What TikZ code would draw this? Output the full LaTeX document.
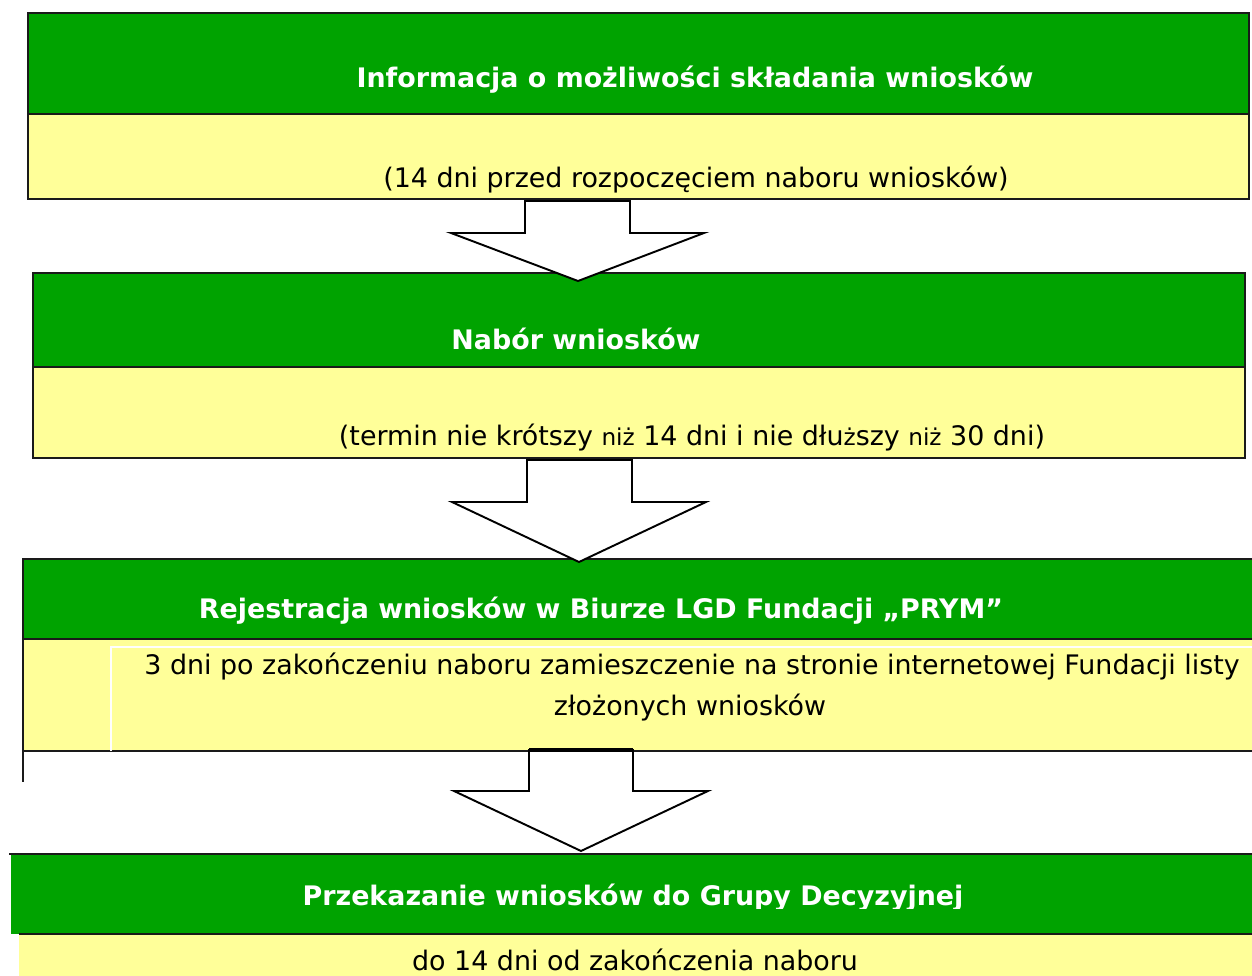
\documentclass[tikz,border=0pt]{standalone}
\usepackage{fontspec}
\setmainfont{DejaVu Sans}
\definecolor{hdgreen}{HTML}{00A300}
\definecolor{pale}{HTML}{FFFF99}
\definecolor{edge}{HTML}{1A1A1A}
\tikzset{
  ttl/.style={font=\fontsize{15.3}{18}\selectfont\bfseries, text=white, anchor=base, inner sep=0pt},
  bdy/.style={font=\fontsize{15.3}{18}\selectfont, text=black, anchor=base, inner sep=0pt},
  bx/.style={draw=edge, line width=1.1pt},
  blk/.style={draw=black, line width=1.1pt, fill=white, line join=miter},
}
\newcommand{\smallpl}[1]{{\fontsize{13.2}{16}\selectfont #1}}
\begin{document}
\begin{tikzpicture}[x=0.02cm,y=-0.02cm]
\useasboundingbox (0,0) rectangle (1252,976);
% ---------- box 1
\fill[hdgreen] (28,13) rectangle (1249,114);
\fill[pale] (28,114) rectangle (1249,199);
\draw[bx] (28,13) rectangle (1249,199);
\draw[bx] (28,114) -- (1249,114);
\node[ttl] (t1) at (695,88) {Informacja o możliwości składania wniosków};
\node[bdy] (b1) at (696,188) {(14 dni przed rozpoczęciem naboru wniosków)};
% ---------- box 2
\fill[hdgreen] (33,273) rectangle (1245,367);
\fill[pale] (33,367) rectangle (1245,458);
\draw[bx] (33,273) rectangle (1245,458);
\draw[bx] (33,367) -- (1245,367);
\node[ttl] (t2) at (576,350) {Nabór wniosków};
\node[bdy] (b2) at (692,446) {(termin nie krótszy \smallpl{niż} 14 dni i nie dłu\smallpl{ż}szy \smallpl{niż} 30 dni)};
% ---------- box 3
\fill[hdgreen] (23,559) rectangle (1252,639);
\fill[pale] (23,639) rectangle (1252,751);
\draw[bx] (1252,559) -- (23,559) -- (23,782);
\draw[bx] (23,639) -- (1252,639);
\draw[bx] (23,751) -- (1252,751);
\draw[white, line width=1.1pt] (111,751) -- (111,647) -- (1252,647);
\node[ttl] (t3) at (601,619) {Rejestracja wniosków w Biurze LGD Fundacji „PRYM”};
\node[bdy] (b3a) at (692,675) {3 dni po zakończeniu naboru zamieszczenie na stronie internetowej Fundacji listy};
\node[bdy] (b3b) at (690,716) {złożonych wniosków};
% ---------- box 4
\fill[hdgreen] (11,854) rectangle (1252,934);
\fill[pale] (19,934) rectangle (1252,976);
\draw[bx] (9,854) -- (1252,854);
\draw[bx] (19,934) -- (1252,934);
\begin{scope}
\clip (0,854) rectangle (1252,908);
\node[ttl] (t4) at (633,905) {Przekazanie wniosków do Grupy Decyzyjnej};
\end{scope}
\node[bdy] (b4) at (635,970) {do 14 dni od zakończenia naboru};
% ---------- block arrows (drawn over the boxes)
\draw[blk] (525,201) -- (630,201) -- (630,233) -- (704,233) -- (578,281) -- (451,233) -- (525,233) -- cycle;
\draw[blk] (527,460) -- (632,460) -- (632,502) -- (706,502) -- (579,562) -- (452,502) -- (527,502) -- cycle;
\draw[blk] (529,750) -- (633,750) -- (633,791) -- (708,791) -- (581,851) -- (454,791) -- (529,791) -- cycle;
\draw[black, line width=1.8pt] (529,750) -- (633,750);
\end{tikzpicture}
\end{document}
